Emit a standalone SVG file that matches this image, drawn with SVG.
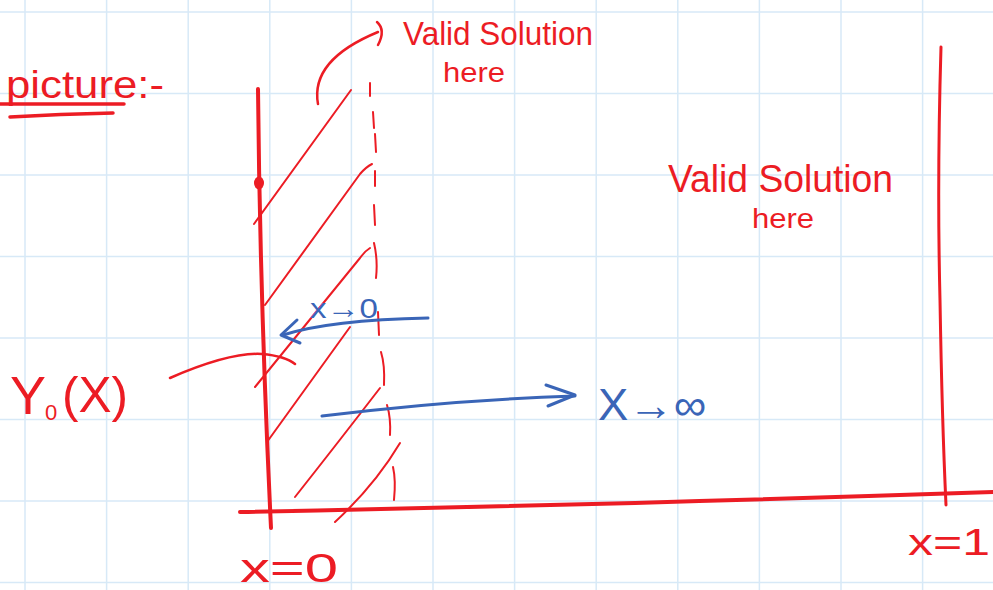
<svg xmlns="http://www.w3.org/2000/svg" width="993" height="590" viewBox="0 0 993 590">
<defs>
<style>
.grid line{stroke:#d7e9f7;stroke-width:1.5}
.r{stroke:#ec1c24;fill:none;stroke-linecap:round;stroke-linejoin:round}
.b{stroke:#3a65b7;fill:none;stroke-linecap:round;stroke-linejoin:round}
.tr{fill:#ec1c24;font-family:"Liberation Sans",Arial,sans-serif}
.tb{fill:#3a65b7;font-family:"Liberation Sans",Arial,sans-serif}
</style>
</defs>
<rect width="993" height="590" fill="#ffffff"/>
<g class="grid" id="grid">
<line x1="25" y1="0" x2="25" y2="590"/>
<line x1="106.6" y1="0" x2="106.6" y2="590"/>
<line x1="188.2" y1="0" x2="188.2" y2="590"/>
<line x1="269.8" y1="0" x2="269.8" y2="590"/>
<line x1="351.4" y1="0" x2="351.4" y2="590"/>
<line x1="433" y1="0" x2="433" y2="590"/>
<line x1="514.6" y1="0" x2="514.6" y2="590"/>
<line x1="596.2" y1="0" x2="596.2" y2="590"/>
<line x1="677.8" y1="0" x2="677.8" y2="590"/>
<line x1="759.4" y1="0" x2="759.4" y2="590"/>
<line x1="841" y1="0" x2="841" y2="590"/>
<line x1="922.6" y1="0" x2="922.6" y2="590"/>
<line x1="0" y1="12" x2="993" y2="12"/>
<line x1="0" y1="93.5" x2="993" y2="93.5"/>
<line x1="0" y1="175" x2="993" y2="175"/>
<line x1="0" y1="256.5" x2="993" y2="256.5"/>
<line x1="0" y1="338" x2="993" y2="338"/>
<line x1="0" y1="419.5" x2="993" y2="419.5"/>
<line x1="0" y1="501" x2="993" y2="501"/>
<line x1="0" y1="582.5" x2="993" y2="582.5"/>
</g>

<g id="title">
<text class="tr" x="6" y="98" font-size="38" textLength="158" lengthAdjust="spacingAndGlyphs">picture:-</text>
<path class="r" stroke-width="3.5" d="M0,104 L124,104"/>
<path class="r" stroke-width="3.5" d="M10,117 Q60,114 113,113"/>
</g>

<g id="axes">
<path class="r" stroke-width="4" d="M258,89 Q260,300 271,528"/>
<path class="r" stroke-width="4" d="M240,512 Q600,505 993,492"/>
<path class="r" stroke-width="3" d="M941,47 Q937,180 940,300 Q942,420 946,505"/>
<ellipse cx="259" cy="183" rx="5" ry="6.5" fill="#ec1c24"/>
</g>

<g id="hatching" class="r" stroke-width="2">
<path d="M351,90 L254,224"/>
<path d="M372,164 Q366,167 360,174 L265,305"/>
<path d="M370,248 Q365,251 360,258 L255,387"/>
<path d="M350,327 L267,442"/>
<path d="M380,388 Q340,440 295,497"/>
<path d="M400,443 Q375,485 335,522"/>
</g>

<g id="dashed-boundary" class="r" stroke-width="2">
<path d="M370,83 L370,96"/>
<path d="M373,112 L374,128"/>
<path d="M375,134 L376,152"/>
<path d="M375,171 L375,186"/>
<path d="M374,205 L375,225"/>
<path d="M374,243 Q378,260 376,278"/>
<path d="M378,312 L379,335"/>
<path d="M381,352 Q385,365 384,385"/>
<path d="M387,405 Q391,418 390,435"/>
<path d="M393,467 Q396,480 394,500"/>
</g>

<g id="connectors">
<path class="r" stroke-width="2.5" d="M318,104 Q310,60 378,32"/>
<path class="r" stroke-width="2.5" d="M377,22 Q386,30 378,45"/>
<path class="r" stroke-width="2.5" d="M170,378 Q230,352 262,354 Q285,356 295,364"/>
<path class="b" stroke-width="3" d="M428,318 Q330,320 283,335"/>
<path class="b" stroke-width="3" d="M297,320 L281,335 L300,343"/>
<path class="b" stroke-width="3" d="M322,416 Q450,400 575,396"/>
<path class="b" stroke-width="3" d="M546,385 L575,395 L548,406"/>
</g>

<g id="label-valid-top">
<text class="tr" x="403" y="45" font-size="34" textLength="190" lengthAdjust="spacingAndGlyphs">Valid Solution</text>
<text class="tr" x="443" y="82" font-size="28" textLength="62" lengthAdjust="spacingAndGlyphs">here</text>
</g>

<g id="label-valid-right">
<text class="tr" x="668" y="192" font-size="38" textLength="225" lengthAdjust="spacingAndGlyphs">Valid Solution</text>
<text class="tr" x="752" y="228" font-size="28" textLength="62" lengthAdjust="spacingAndGlyphs">here</text>
</g>

<g id="label-y0">
<text class="tr" x="10" y="414" font-size="54" textLength="36" lengthAdjust="spacingAndGlyphs">Y</text>
<text class="tr" x="45" y="420" font-size="22">0</text>
<text class="tr" x="62" y="412" font-size="50" textLength="66" lengthAdjust="spacingAndGlyphs">(X)</text>
</g>

<g id="label-x0">
<text class="tb" x="310" y="318" font-size="28" textLength="68" lengthAdjust="spacingAndGlyphs">x→0</text>
</g>

<g id="label-xinf">
<text class="tb" x="598" y="420" font-size="44" textLength="108" lengthAdjust="spacingAndGlyphs">X→∞</text>
</g>

<g id="label-x-eq-0">
<text class="tr" x="240" y="582" font-size="40" textLength="98" lengthAdjust="spacingAndGlyphs">x=0</text>
</g>

<g id="label-x-eq-1">
<text class="tr" x="908" y="555" font-size="36" textLength="82" lengthAdjust="spacingAndGlyphs">x=1</text>
</g>
</svg>
